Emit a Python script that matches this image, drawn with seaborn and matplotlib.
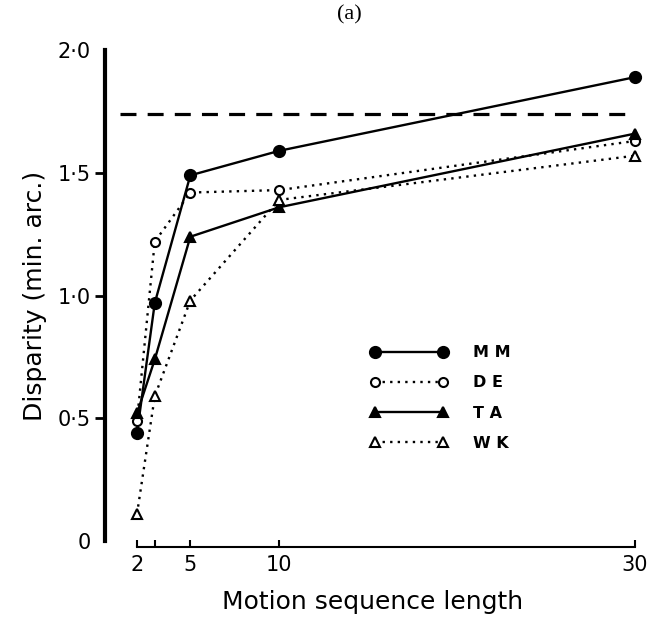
import seaborn as sns
import matplotlib.pyplot as plt
import pandas as pd

# motion sequence length (x) and disparity in min. arc. for each observer
seq_len = [2, 3, 5, 10, 30]
mm = [0.44, 0.97, 1.49, 1.59, 1.89]
de = [0.49, 1.22, 1.42, 1.43, 1.63]
ta = [0.52, 0.74, 1.24, 1.36, 1.66]
wk = [0.11, 0.59, 0.98, 1.39, 1.57]
observers = ["MM", "DE", "TA", "WK"]
ref_level = 1.74

x_ticks = [2, 5, 10, 30]
x_minor = [3]
y_ticks = [0, 0.5, 1.0, 1.5, 2.0]
y_labels = ["0", "0\u00b75", "1\u00b70", "1\u00b75", "2\u00b70"]

sns.set_style("white")
plt.rcParams["font.family"] = ["DejaVu Sans"]
for k in ["text.color", "axes.labelcolor", "xtick.color", "ytick.color", "axes.edgecolor"]:
    plt.rcParams[k] = "black"

df = pd.DataFrame({"Length": seq_len * 4,
                   "Disparity": mm + de + ta + wk,
                   "Observer": [o for o in observers for _ in seq_len]})

styles = {
    "MM": dict(marker="o", linestyle="-", markersize=8, markerfacecolor="black"),
    "DE": dict(marker="o", linestyle=(0, (1, 2.2)), markersize=6.5, markerfacecolor="white"),
    "TA": dict(marker="^", linestyle="-", markersize=6.5, markerfacecolor="black"),
    "WK": dict(marker="^", linestyle=(0, (1, 2.2)), markersize=7, markerfacecolor="white"),
}

fig = plt.figure(figsize=(6.5, 6.27), dpi=100)
ax = fig.add_axes([0.1615, 0.137, 0.823, 0.783])

for obs in observers:
    sub = df[df["Observer"] == obs]
    sns.lineplot(data=sub, x="Length", y="Disparity", ax=ax, color="black",
                 linewidth=1.7, markeredgecolor="black", markeredgewidth=1.5,
                 label=" ".join(obs), clip_on=False, **styles[obs])

ax.plot([1.05, 30], [ref_level, ref_level], color="black", linewidth=2.3,
        linestyle=(0, (5, 3.5)), clip_on=False)

ax.set_xlim(0.2, 30.28)
ax.set_ylim(0, 2.0)

for side in ["top", "right"]:
    ax.spines[side].set_visible(False)
ax.spines["left"].set_bounds(0, 2.0)
ax.spines["left"].set_linewidth(3)
ax.spines["bottom"].set_bounds(2, 30)
ax.spines["bottom"].set_linewidth(1.5)
ax.spines["bottom"].set_position(("outward", 4))

ax.set_xticks(x_ticks)
ax.set_xticks(x_minor, minor=True)
ax.set_xticklabels([str(t) for t in x_ticks])
ax.tick_params(axis="x", which="both", direction="in", length=5, width=1.5,
               labelsize=15, pad=6, bottom=True)

ax.set_yticks(y_ticks)
ax.set_yticklabels(y_labels)
ax.tick_params(axis="y", which="major", direction="out", length=7, width=2,
               labelsize=15, pad=3, left=True)
yt = ax.yaxis.get_major_ticks()
for i in [0, len(yt) - 1]:
    yt[i].tick1line.set_markersize(0)
ax.set_yticks([0, 2.0], minor=True)
ax.tick_params(axis="y", which="minor", direction="in", length=6, width=2, left=True)

ax.set_xlabel("Motion sequence length", fontsize=18, labelpad=11)
ax.set_ylabel("Disparity (min. arc.)", fontsize=18, labelpad=8)

ax.legend(loc="upper left", bbox_to_anchor=(0.558, 0.462),
          bbox_transform=fig.transFigure, frameon=False, numpoints=2,
          prop={"size": 11.5, "weight": "bold"}, handlelength=4.8,
          handletextpad=1.6, labelspacing=0.95, borderpad=0)

fig.text(0.537, 0.977, "(a)", ha="center", va="center", fontsize=16,
         family=["Liberation Serif"])

fig.savefig("out.png", dpi=100)
